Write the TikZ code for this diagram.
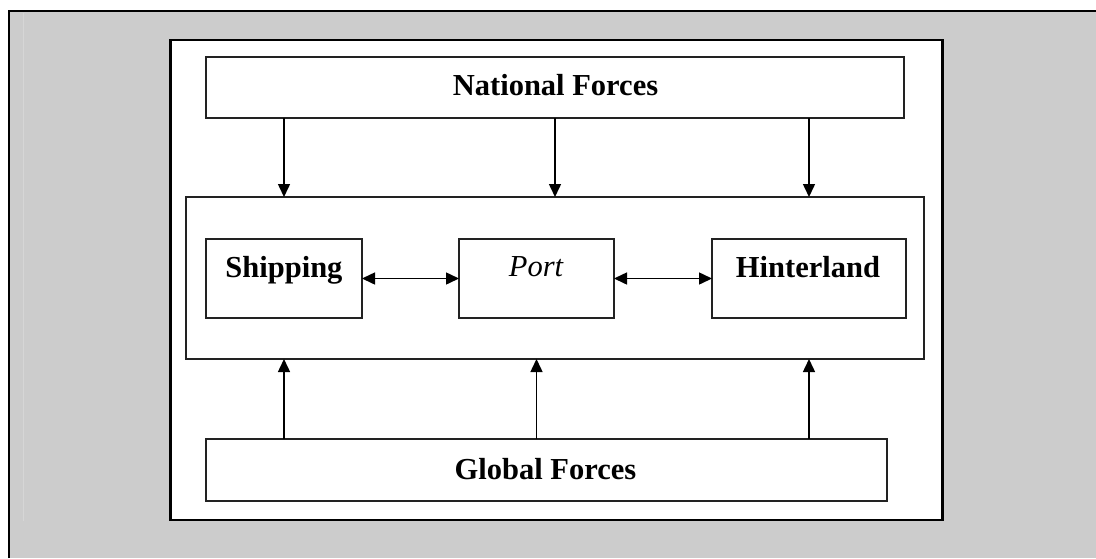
\documentclass[tikz,border=0pt]{standalone}
\usepackage{fontspec}
\setmainfont{Liberation Serif}
\usetikzlibrary{arrows.meta}
\definecolor{bggray}{HTML}{CCCCCC}
\definecolor{faint}{HTML}{D6D6D6}
\definecolor{boxline}{HTML}{222222}
\begin{document}
\begin{tikzpicture}[x=1pt,y=-1pt,
  box/.style={draw=boxline,line width=1.6pt,fill=white,inner sep=0pt,outer sep=0pt,rectangle},
  lbl/.style={anchor=base,inner sep=0pt,font=\fontsize{30.5}{31}\selectfont\bfseries},
  arr/.style={line width=1.5pt,-{Triangle[length=13pt,width=12pt]}},
  darr/.style={line width=1.5pt,{Triangle[length=13pt,width=12pt]}-{Triangle[length=13pt,width=12pt]}}]
\useasboundingbox (0,0) rectangle (1096,558);
% background
\fill[white] (0,0) rectangle (1096,558);
\fill[bggray] (9,11) rectangle (1096,558);
\draw[faint,line width=1pt] (23,13) -- (23,521);
\draw[black,line width=2.5pt] (9,558) -- (9,11) -- (1096,11);
% white panel
\node[draw=black,line width=2.5pt,fill=white,inner sep=0pt,minimum width=772pt,minimum height=480pt] (panel) at (556.5,280) {};
% boxes
\node[box,minimum width=698pt,minimum height=61pt] (nf) at (555,87.5) {};
\node[box,minimum width=738pt,minimum height=162pt] (mid) at (555,278) {};
\node[box,minimum width=156pt,minimum height=79pt] (ship) at (284,278.5) {};
\node[box,minimum width=155pt,minimum height=79pt] (port) at (536.5,278.5) {};
\node[box,minimum width=194pt,minimum height=79pt] (hint) at (809,278.5) {};
\node[box,minimum width=681pt,minimum height=62pt] (gf) at (546.5,470) {};
% labels
\node[lbl] (nft) at (555.5,95) {National Forces};
\node[lbl] (shipt) at (284,277) {Shipping};
\node[lbl,font=\fontsize{30.5}{31}\selectfont\itshape] (portt) at (536,276) {Port};
\node[lbl] (hintt) at (808,277) {Hinterland};
\node[lbl] (gft) at (545.5,479) {Global Forces};
% down arrows
\draw[arr] (nf.south -| ship.center) -- (mid.north -| ship.center);
\draw[arr] (nf.south) -- (mid.north);
\draw[arr] (nf.south -| hint.center) -- (mid.north -| hint.center);
% up arrows
\draw[arr] (gf.north -| ship.center) -- (mid.south -| ship.center);
\draw[arr] (gf.north -| port.center) -- (mid.south -| port.center);
\draw[arr] (gf.north -| hint.center) -- (mid.south -| hint.center);
% horizontal double arrows
\draw[darr] (ship.east) -- (port.west);
\draw[darr] (port.east) -- (hint.west);
\end{tikzpicture}
\end{document}
